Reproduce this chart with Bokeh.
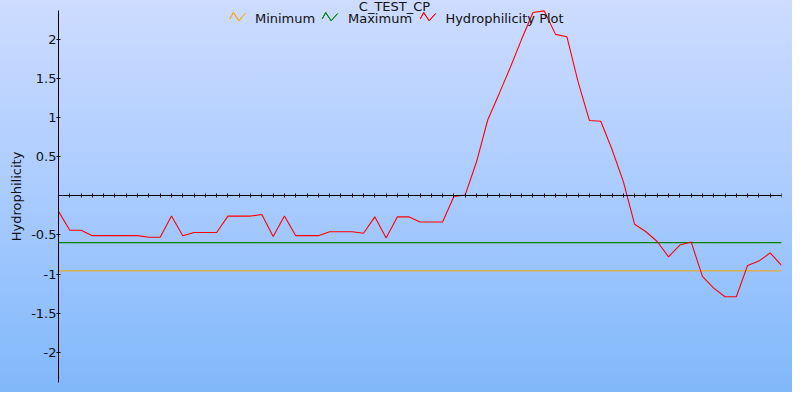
from bokeh.plotting import figure
from bokeh.models import FixedTicker, Label, PolyAnnotation, Range1d
from bokeh.embed import file_html
from bokeh.resources import INLINE

# ---------------- data ----------------
title_text = "C_TEST_CP"
y_axis_title = "Hydrophilicity"
series_names = ["Minimum", "Maximum", "Hydrophilicity Plot"]
series_colors = ["#ffa500", "#008000", "#ff0000"]

minimum_value = -0.96
maximum_value = -0.60

hydrophilicity = [
    -0.20, -0.44, -0.44, -0.51, -0.51, -0.51, -0.51, -0.51, -0.53, -0.53,
    -0.26, -0.51, -0.47, -0.47, -0.47, -0.26, -0.26, -0.26, -0.24, -0.52,
    -0.26, -0.51, -0.51, -0.51, -0.46, -0.46, -0.46, -0.48, -0.27, -0.54,
    -0.27, -0.27, -0.335, -0.335, -0.335, -0.01, 0.01, 0.43, 0.97, 1.30,
    1.64, 2.00, 2.34, 2.36, 2.06, 2.03, 1.45, 0.96, 0.95, 0.59,
    0.18, -0.365, -0.46, -0.585, -0.78, -0.63, -0.59, -1.03, -1.18, -1.29,
    -1.29, -0.89, -0.835, -0.73, -0.89,
]
positions = list(range(len(hydrophilicity)))

y_ticks = [-2, -1.5, -1, -0.5, 0.5, 1, 1.5, 2]
y_tick_labels = ["-2", "-1.5", "-1", "-0.5", "0.5", "1", "1.5", "2"]
y_min, y_max = -2.385, 2.365          # extent of the drawn y axis

# ---------------- layout ----------------
W, H = 792, 392
SX, SY = W / 800.0, H / 400.0          # reference pixels -> figure pixels
AXIS_TOP, AXIS_BOTTOM = 10, 10          # px between figure edges and the ends of the y axis
B_LEFT, B_RIGHT, B_TOP, B_BOTTOM = 58, 11, 0, 0
FRAME_H = H - B_TOP - B_BOTTOM
AXIS_H = FRAME_H - AXIS_TOP - AXIS_BOTTOM
# the frame fills the whole height (title/legend inside it are not clipped);
# the range is extended so that the axis keeps its scale
PX = (y_max - y_min) / AXIS_H
y_top = y_max + AXIS_TOP * PX
y_bot = y_min - AXIS_BOTTOM * PX
FONT = "DejaVu Sans"
TEXT_COLOR = "#111111"


def fx(x_ref):
    return x_ref * SX - B_LEFT


def fy(y_ref):
    return FRAME_H - (y_ref * SY - B_TOP)


p = figure(
    width=W, height=H, output_backend="svg", toolbar_location=None,
    x_range=Range1d(positions[0], positions[-1]),
    y_range=Range1d(y_bot, y_top),
    min_border_left=B_LEFT, min_border_right=B_RIGHT,
    min_border_top=B_TOP, min_border_bottom=B_BOTTOM,
)
p.grid.visible = False
p.background_fill_color = None
p.border_fill_color = None
p.outline_line_color = None
# the page margin leaves 792x392 visible; negative outer margins keep the page from overflowing
p.styles = {
    "margin-right": "-8px",
    "margin-bottom": "-8px",
    "background": "linear-gradient(180deg, #cddcff 0%, #a9cbff 50%, #80b8fa 100%)",
}

# x axis sitting on y = 0, ticks at every residue
xa = p.xaxis[0]
xa.fixed_location = 0
xa.ticker = FixedTicker(ticks=positions)
xa.major_label_overrides = {k: "" for k in positions}
xa.major_label_standoff = 0
xa.major_tick_in = 2
xa.major_tick_out = 2
xa.minor_tick_line_color = None
xa.axis_line_color = "black"
xa.major_tick_line_color = "black"

ya = p.yaxis[0]
ya.bounds = (y_min, y_max)
ya.ticker = FixedTicker(ticks=y_ticks)
ya.major_label_overrides = dict(zip(y_ticks, y_tick_labels))
ya.major_tick_in = 2
ya.major_tick_out = 2
ya.minor_tick_line_color = None
ya.major_label_standoff = 0
ya.major_label_text_font = FONT
ya.major_label_text_font_size = "13px"
ya.major_label_text_color = TEXT_COLOR
ya.axis_label = y_axis_title
ya.axis_label_text_font = FONT
ya.axis_label_text_font_size = "13px"
ya.axis_label_text_font_style = "normal"
ya.axis_label_text_color = TEXT_COLOR
ya.axis_label_standoff = 4
ya.axis_line_color = "black"
ya.major_tick_line_color = "black"

# series
p.line(positions, [minimum_value] * len(positions), line_color=series_colors[0], line_width=1)
p.line(positions, [maximum_value] * len(positions), line_color=series_colors[1], line_width=1.2)
p.line(positions, hydrophilicity, line_color=series_colors[2], line_width=1.1)

# title (vertical centre of the caps)
p.add_layout(Label(
    x=fx(398), y=fy(6.0), x_units="screen", y_units="screen",
    text=title_text, text_align="center", text_baseline="middle",
    text_font=FONT, text_font_size="13px", text_color=TEXT_COLOR,
))

# legend (zig-zag icons + labels)
icon_starts = [231.7, 325.0, 424.0]
label_starts = [257.0, 351.0, 449.4]
icon_dx = [0, 3.5, 9, 15.5]
icon_dy = [18.7, 12.3, 20.7, 13.3]
for name, color, ix, lx in zip(series_names, series_colors, icon_starts, label_starts):
    xs = [fx(ix + d) for d in icon_dx]
    ys = [fy(d) for d in icon_dy]
    xs = xs + xs[-2:0:-1]
    ys = ys + ys[-2:0:-1]
    p.add_layout(PolyAnnotation(
        xs=xs, ys=ys, xs_units="screen", ys_units="screen",
        fill_alpha=0, line_color=color, line_alpha=1.0, line_width=1,
    ))
    p.add_layout(Label(
        x=fx(lx), y=fy(18.3), x_units="screen", y_units="screen",
        text=name, text_align="left", text_baseline="middle",
        text_font=FONT, text_font_size="13px", text_color=TEXT_COLOR,
    ))

open("out.html", "w").write(file_html(p, INLINE))
